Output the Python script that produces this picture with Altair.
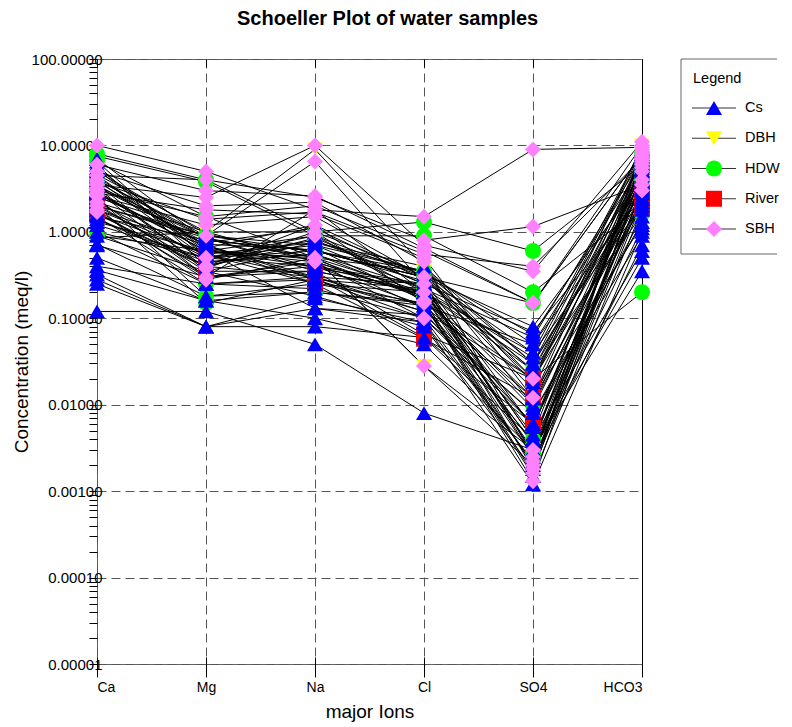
import altair as alt
import pandas as pd

ions = ["Ca", "Mg", "Na", "Cl", "SO4", "HCO3"]
groups = ["Cs", "DBH", "HDW", "River", "SBH"]
group_colors = ["#0000FF", "#FFFF00", "#00FF00", "#FF0000", "#FF80FF"]
group_shapes = ["triangle-up", "triangle-down", "circle", "square", "diamond"]
y_decades = [0.00001, 0.0001, 0.001, 0.01, 0.1, 1.0, 10.0, 100.0]

# each row: [Ca, Mg, Na, Cl, SO4, HCO3] in meq/l
cs_samples = [
    [0.12, 0.12, 0.05, 0.008, 0.003, 0.35],
    [0.25, 0.08, 0.08, 0.06, 0.004, 0.6],
    [0.28, 0.08, 0.13, 0.11, 0.008, 0.9],
    [0.32, 0.08, 0.17, 0.09, 0.0012, 1.0],
    [0.36, 0.16, 0.2, 0.14, 0.012, 1.2],
    [0.40, 0.25, 0.28, 0.10, 0.006, 1.5],
    [0.70, 0.30, 0.35, 0.2, 0.04, 2.0],
    [0.72, 0.18, 0.25, 0.15, 0.0015, 1.8],
    [1.2, 0.5, 0.4, 0.25, 0.07, 2.5],
    [1.3, 0.6, 0.5, 0.2, 0.03, 3.0],
    [1.5, 0.8, 0.6, 0.3, 0.08, 4.0],
    [1.8, 0.7, 0.3, 0.12, 0.02, 3.5],
    [2.0, 0.9, 0.7, 0.35, 0.05, 5.0],
    [2.2, 0.5, 0.8, 0.25, 0.004, 4.5],
    [2.5, 1.0, 0.45, 0.18, 0.0035, 6.0],
    [2.8, 0.6, 0.9, 0.3, 0.015, 5.5],
    [3.0, 0.45, 0.55, 0.22, 0.06, 7.0],
    [3.3, 0.75, 1.1, 0.28, 0.025, 6.5],
    [3.6, 0.35, 0.65, 0.16, 0.002, 4.2],
    [4.0, 0.85, 0.35, 0.2, 0.0045, 8.0],
    [4.4, 0.55, 0.75, 0.4, 0.03, 3.8],
    [5.0, 0.95, 0.5, 0.13, 0.006, 5.2],
    [5.5, 0.65, 1.2, 0.3, 0.04, 9.0],
    [6.0, 0.4, 0.85, 0.25, 0.0025, 6.8],
    [7.0, 0.8, 0.6, 0.35, 0.018, 7.5],
    [1.0, 0.25, 0.22, 0.1, 0.008, 1.3],
    [0.9, 0.35, 0.18, 0.08, 0.0018, 2.2],
    [1.6, 0.55, 0.3, 0.14, 0.05, 2.8],
    [2.4, 0.3, 0.4, 0.2, 0.012, 3.2],
    [3.8, 0.7, 0.28, 0.12, 0.0038, 4.8],
    [4.6, 1.0, 1.0, 0.33, 0.065, 5.8],
    [2.9, 0.6, 0.13, 0.09, 0.0022, 0.7],
    [0.5, 0.16, 0.1, 0.05, 0.003, 0.5],
    [6.5, 0.5, 0.7, 0.22, 0.035, 8.5],
    [1.4, 0.45, 0.55, 0.18, 0.01, 2.4],
    [3.4, 0.85, 0.38, 0.24, 0.0028, 1.1],
    [5.2, 0.62, 0.48, 0.17, 0.009, 3.4],
    [2.6, 0.72, 0.62, 0.27, 0.0055, 6.2],
]
dbh_samples = [
    [0.85, 1.0, 9.0, 0.4, 0.02, 10.0],
    [1.0, 0.5, 0.6, 0.3, 0.025, 4.0],
    [2.0, 0.85, 0.5, 0.028, 0.003, 3.0],
    [3.0, 0.3, 1.8, 0.2, 0.0055, 6.0],
    [4.5, 0.6, 0.4, 0.14, 0.002, 2.5],
    [1.4, 0.4, 0.75, 0.35, 0.03, 8.0],
]
hdw_samples = [
    [8.0, 4.0, 1.0, 1.3, 0.6, 6.0],
    [7.5, 3.8, 0.9, 0.9, 0.2, 2.0],
    [3.5, 0.7, 0.25, 0.2, 0.025, 1.6],
    [2.5, 0.18, 0.2, 0.15, 0.02, 0.2],
    [1.5, 0.25, 0.3, 0.25, 0.004, 2.5],
    [0.9, 0.6, 0.45, 0.18, 0.0025, 4.0],
    [4.0, 0.9, 0.6, 0.3, 0.15, 8.0],
    [2.0, 0.15, 0.28, 0.22, 0.0028, 3.0],
    [6.5, 1.5, 0.5, 0.35, 0.01, 5.0],
]
river_samples = [
    [1.6, 0.4, 0.3, 0.06, 0.006, 2.2],
    [1.8, 0.55, 0.25, 0.058, 0.012, 2.8],
    [2.1, 0.35, 0.35, 0.065, 0.02, 1.9],
]
sbh_samples = [
    [10.0, 5.0, 1.8, 1.5, 9.0, 9.5],
    [4.5, 4.0, 2.5, 0.8, 1.15, 3.5],
    [3.5, 2.5, 10.0, 0.7, 0.35, 11.0],
    [3.0, 1.5, 2.0, 0.6, 0.15, 8.0],
    [2.6, 1.2, 1.5, 0.3, 0.02, 6.0],
    [2.2, 0.9, 6.5, 0.25, 0.0018, 9.0],
    [2.0, 0.4, 1.2, 0.15, 0.0013, 5.0],
    [1.8, 0.28, 0.5, 0.028, 0.002, 4.0],
    [5.0, 2.0, 2.2, 0.45, 0.0025, 6.5],
    [4.0, 0.5, 0.9, 0.2, 0.003, 5.5],
    [3.2, 0.38, 1.0, 0.16, 0.0016, 8.5],
    [2.8, 1.8, 1.6, 0.5, 0.012, 7.5],
    [1.7, 0.3, 0.45, 0.1, 0.0022, 3.0],
    [6.0, 3.0, 2.6, 0.65, 0.15, 10.0],
    [3.8, 1.4, 1.7, 0.55, 0.4, 7.0],
]

# drawing order of the markers
draw_order = [("DBH", dbh_samples), ("HDW", hdw_samples), ("River", river_samples),
              ("Cs", cs_samples), ("SBH", sbh_samples)]

rows = []
sid = 0
for g, samples in draw_order:
    for s in samples:
        sid += 1
        for i, v in enumerate(s):
            rows.append({"sample": f"{g}{sid}", "group": g, "idx": i, "value": v})
df = pd.DataFrame(rows)

FONT = "Liberation Sans"
GRID = "#555555"
FRAME = "#666666"

# y axis tick values: decades plus minor ticks
y_ticks = []
for d in y_decades:
    y_ticks.append(d)
    if d < 100:
        for k in range(2, 10):
            y_ticks.append(float(f"{k * d:.6g}"))

is_dec = "abs(log(datum.value)/LN10 - round(log(datum.value)/LN10)) < 0.000001"
x_label_expr = "[" + ",".join(f"'{n}'" for n in ions) + "][round(datum.value)]"

xscale = alt.Scale(domain=[0, len(ions) - 1], nice=False, zero=False)
yscale = alt.Scale(type="log", domain=[y_decades[0], y_decades[-1]], nice=False)

x_bottom = alt.Axis(
    orient="bottom", values=list(range(len(ions))), labelExpr=x_label_expr,
    title="major Ions", titleFontSize=19, titleFontWeight="normal", titleColor="black",
    titlePadding=8, labelFontSize=14, labelColor="black", labelPadding=3,
    tickSize=20, offset=-7, tickColor="black", domain=False,
    grid=True, gridDash=[9, 5], gridColor=GRID, gridOpacity=1,
)
y_left = alt.Axis(
    orient="left", values=y_ticks, labelExpr=f"{is_dec} ? format(datum.value, '.5f') : ''",
    title="Concentration (meq/l)", titleFontSize=19, titleFontWeight="normal",
    titleColor="black", titlePadding=0, labelFontSize=15, labelColor="black",
    labelPadding=-13, tickSize=8, tickColor="black", domain=False,
    grid=True, gridDash=[9, 5], gridColor=GRID,
    gridOpacity={"condition": {"test": is_dec, "value": 1}, "value": 0},
)
x_top = alt.Axis(
    orient="top", values=list(range(len(ions))), labels=False, title=None,
    domain=False, grid=False, tickSize=8, offset=-8, tickColor="black",
)
y_right = alt.Axis(
    orient="right", labels=False, ticks=False, title=None, grid=False,
    domain=True, domainColor="black",
)

lines = alt.Chart(df).mark_line(color="black", strokeWidth=1).encode(
    x=alt.X("idx:Q", scale=xscale, axis=x_bottom),
    y=alt.Y("value:Q", scale=yscale, axis=y_left),
    detail="sample:N",
    order="idx:Q",
)

color_scale = alt.Scale(domain=groups, range=group_colors)
shape_scale = alt.Scale(domain=groups, range=group_shapes)

points = alt.Chart(df).mark_point(filled=True, size=256, opacity=1, strokeWidth=0).encode(
    x=alt.X("idx:Q", scale=xscale, axis=x_top),
    y=alt.Y("value:Q", scale=yscale, axis=y_right),
    color=alt.Color("group:N", scale=color_scale, legend=None),
    shape=alt.Shape("group:N", scale=shape_scale, legend=None),
)

main = alt.layer(lines, points).resolve_axis(x="independent", y="independent").properties(
    width=545, height=605, view=alt.ViewBackground(stroke=FRAME, strokeWidth=1)
)

# legend panel (its right border lies beyond the page edge, as in the original)
LEG_W, LEG_H = 96, 195
leg_df = pd.DataFrame({"group": groups})
leg_base = alt.Chart(leg_df).encode(
    y=alt.Y("group:N", sort=groups, scale=alt.Scale(type="point", range=[49, 170], padding=0), axis=None)
)
leg_rule = leg_base.mark_rule(color="#333333", strokeWidth=1.2).encode(x=alt.value(11), x2=alt.value(55))
leg_pts = leg_base.mark_point(filled=True, size=256, opacity=1, strokeWidth=0).encode(
    x=alt.value(33),
    color=alt.Color("group:N", scale=color_scale, legend=None),
    shape=alt.Shape("group:N", scale=shape_scale, legend=None),
)
leg_txt = leg_base.mark_text(align="left", baseline="middle", fontSize=14.5, color="black").encode(
    x=alt.value(64), text="group:N"
)
leg_title = alt.Chart(pd.DataFrame({"t": ["Legend"]})).mark_text(
    align="left", baseline="middle", fontSize=14.5, color="black"
).encode(x=alt.value(12), y=alt.value(20), text="t:N")
box_src = pd.DataFrame({"t": ["box"]})
box_left = alt.Chart(box_src).mark_rule(color=FRAME, strokeWidth=1).encode(
    x=alt.value(0), y=alt.value(0), y2=alt.value(LEG_H))
box_top = alt.Chart(box_src).mark_rule(color=FRAME, strokeWidth=1).encode(
    x=alt.value(0), x2=alt.value(LEG_W), y=alt.value(0))
box_bottom = alt.Chart(box_src).mark_rule(color=FRAME, strokeWidth=1).encode(
    x=alt.value(0), x2=alt.value(LEG_W), y=alt.value(LEG_H))
legend = alt.layer(box_left, box_top, box_bottom, leg_rule, leg_pts, leg_txt, leg_title).properties(
    width=LEG_W, height=LEG_H, view=alt.ViewBackground(stroke=None)
)

chart = alt.hconcat(main, legend, spacing=39, bounds="flush").properties(
    title=alt.TitleParams(
        "Schoeller Plot of water samples", fontSize=20, fontWeight="bold",
        anchor="middle", frame="bounds", offset=23, dx=-8, color="black",
    ),
    padding={"left": 3, "top": 0, "right": 0, "bottom": 5},
).configure(font=FONT)

chart.save("out.html", embed_options={"renderer": "svg", "actions": False})
